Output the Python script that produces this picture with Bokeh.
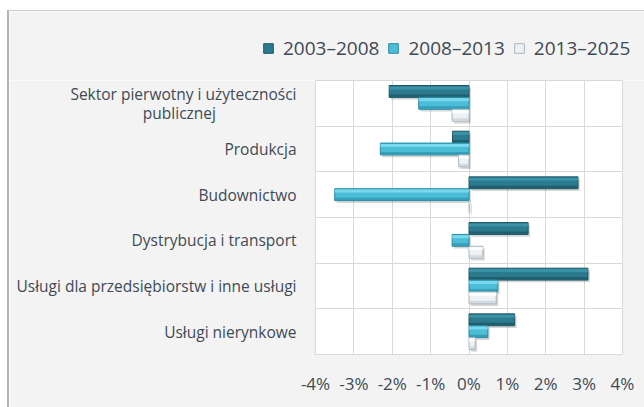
from bokeh.plotting import figure
from bokeh.layouts import column
from bokeh.models import (ColumnDataSource, Range1d, FixedTicker, Legend, LegendItem)
from bokeh.transform import dodge
from bokeh.embed import file_html
from bokeh.resources import INLINE

NB = "\u00a0"
categories = ["Sektor pierwotny i użyteczności\npublicznej" + NB * 20, "Produkcja", "Budownictwo",
              "Dystrybucja i transport", "Usługi dla przedsiębiorstw i inne usługi",
              "Usługi nierynkowe"]
series_names = ["2003–2008", "2008–2013", "2013–2025"]
s2003_2008 = [-2.08, -0.43, 2.84, 1.54, 3.10, 1.19]
s2008_2013 = [-1.31, -2.31, -3.50, -0.44, 0.75, 0.49]
s2013_2025 = [-0.44, -0.27, 0.02, 0.36, 0.71, 0.16]
x_ticks = [-4, -3, -2, -1, 0, 1, 2, 3, 4]
x_tick_labels = ["-4%", "-3%", "-2%", "-1%", "0%", "1%", "2%", "3%", "4%"]

n = len(categories)
ypos = [n - 0.5 - i for i in range(n)]

FONT = "Open Sans"
TXT = "#3e4a55"
BG = "#f3f3f3"

p = figure(width=635, height=327, x_range=Range1d(-4, 4), y_range=Range1d(0, n),
           output_backend="svg", toolbar_location=None,
           min_border_left=306, min_border_right=22, min_border_top=0, min_border_bottom=53)
p.frame_align = False
p.border_fill_color = BG
p.background_fill_color = "#ffffff"
p.outline_line_color = "#d9d9d9"
p.outline_line_width = 1

# grid
p.xgrid.ticker = FixedTicker(ticks=x_ticks)
p.xgrid.grid_line_color = "#d9d9d9"
p.ygrid.ticker = FixedTicker(ticks=list(range(n + 1)))
p.ygrid.grid_line_color = "#d9d9d9"

# axes
p.xaxis.ticker = FixedTicker(ticks=x_ticks)
p.xaxis.major_label_overrides = {t: l for t, l in zip(x_ticks, x_tick_labels)}
p.yaxis.ticker = FixedTicker(ticks=ypos)
p.yaxis.major_label_overrides = {y: c for y, c in zip(ypos, categories)}
for ax in (p.xaxis[0], p.yaxis[0]):
    ax.axis_line_color = None
    ax.major_tick_line_color = None
    ax.minor_tick_line_color = None
    ax.major_label_text_font = FONT
    ax.major_label_text_color = TXT
p.xaxis.major_label_text_font_size = "17px"
p.xaxis.major_label_standoff = 11
p.yaxis.major_label_text_font_size = "15.5px"
p.yaxis.major_label_standoff = 13
p.yaxis.major_label_text_line_height = 0.85

series = [s2003_2008, s2008_2013, s2013_2025]
offsets = [0.26, 0.0, -0.26]
H = 0.26
styles = [
    dict(main="#2c7a8d", top="#3f98ad", bot="#1f5868", line="#1d5563"),
    dict(main="#4bbdd7", top="#86dff1", bot="#2f97b0", line="#2a8aa2"),
    dict(main="#eef2f4", top="#ffffff", bot="#c9d3d8", line="#a7b4bb"),
]

# legend strip (its data lies outside its own view; only the legend shows)
pl = figure(width=635, height=69, x_range=Range1d(-4, 4), y_range=Range1d(100, 101),
            output_backend="svg", toolbar_location=None, x_axis_type=None, y_axis_type=None,
            min_border_left=0, min_border_right=0, min_border_top=0, min_border_bottom=0)
pl.frame_align = False
pl.grid.visible = False
pl.background_fill_color = BG
pl.border_fill_color = BG
pl.outline_line_color = None

items = []
for name, vals, off, st in zip(series_names, series, offsets, styles):
    src = ColumnDataSource(dict(y=ypos, v=vals, zero=[0] * n,
                                sl=[0.05] * n, sr=[v + 0.05 for v in vals]))
    p.hbar(y=dodge("y", off - 0.05, range=p.y_range), left="sl", right="sr", height=H,
           source=src, fill_color="#000000", fill_alpha=0.16, line_color=None)
    p.hbar(y=dodge("y", off, range=p.y_range), left="zero", right="v", height=H,
           source=src, fill_color=st["main"], line_color=st["line"], line_width=1)
    p.hbar(y=dodge("y", off + H * 0.3, range=p.y_range), left="zero", right="v",
           height=H * 0.25, source=src, fill_color=st["top"], fill_alpha=0.8, line_color=None)
    p.hbar(y=dodge("y", off - H * 0.35, range=p.y_range), left="zero", right="v",
           height=H * 0.2, source=src, fill_color=st["bot"], fill_alpha=0.8, line_color=None)
    lr = pl.hbar(y="y", left="zero", right="v", height=H, source=src,
                 fill_color=st["main"], line_color=st["line"], line_width=1)
    items.append(LegendItem(label=name, renderers=[lr]))

legend = Legend(items=items, orientation="horizontal", location=(253, 19),
                label_text_font=FONT, label_text_font_size="19px", label_text_color=TXT,
                glyph_width=12, glyph_height=12, label_standoff=9, spacing=8,
                background_fill_alpha=0, border_line_color=None, padding=0,
                margin=0)
pl.add_layout(legend, "center")

layout = column(pl, p, spacing=0)
layout.margin = (10, 0, 0, 7)
layout.styles = {"border-left": "2px solid #b3b3b3", "border-top": "1px solid #cccccc"}
open("out.html", "w").write(file_html(layout, INLINE))
